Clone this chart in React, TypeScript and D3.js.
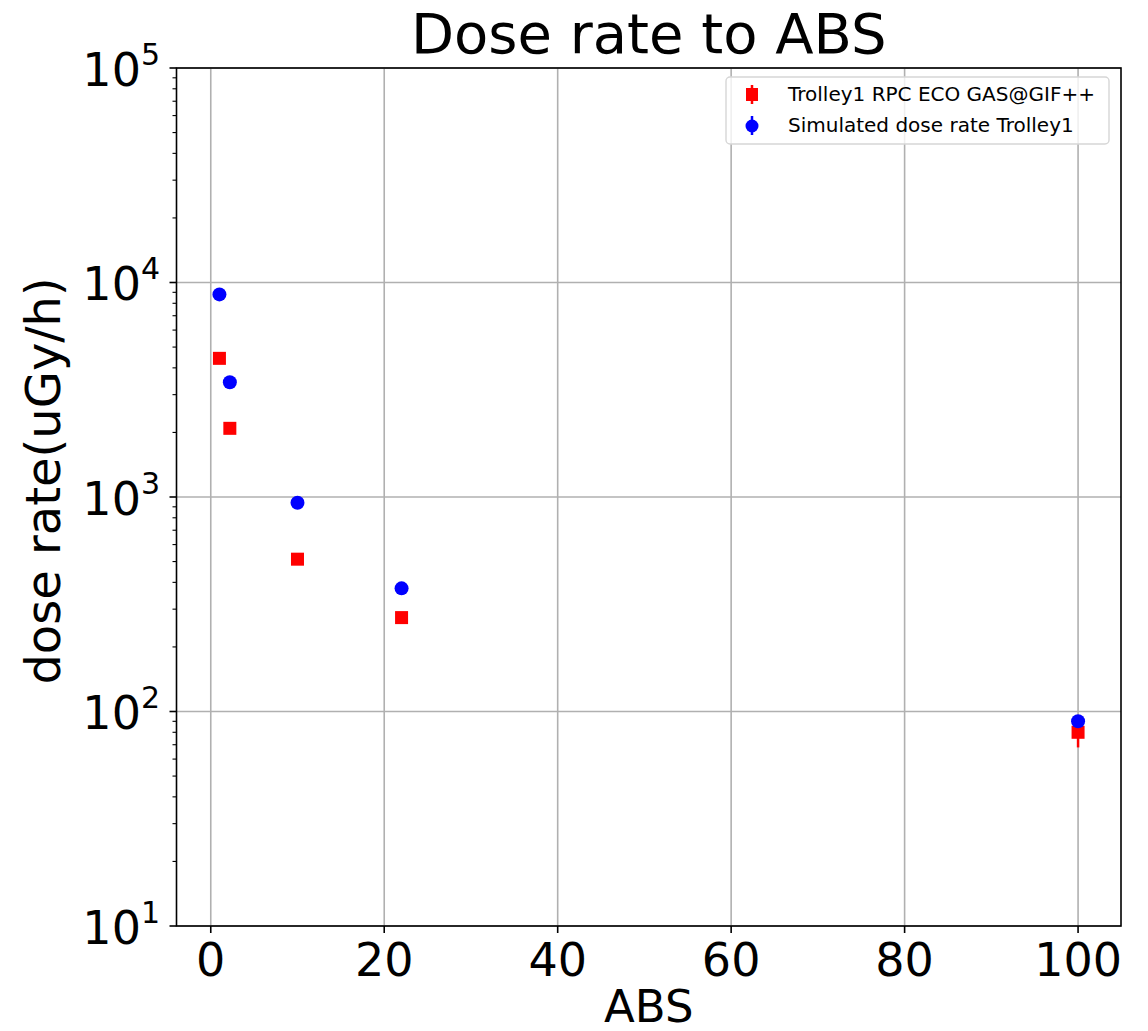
import React from "react";
import * as d3 from "d3";

const absValues = [1, 2.2, 10, 22, 100];
const measuredDose = [4430, 2090, 513, 274, 80];
const measuredErr = [200, 100, 25, 14, 12];
const simulatedDose = [8800, 3430, 940, 375, 90];
const simulatedErr = [300, 120, 30, 12, 3];
const xTicks = [0, 20, 40, 60, 80, 100];
const yExponents = [1, 2, 3, 4, 5];
const legendLabels = ["Trolley1 RPC ECO GAS@GIF++", "Simulated dose rate Trolley1"];
const titleText = "Dose rate to ABS";
const xLabelText = "ABS";
const yLabelText = "dose rate(uGy/h)";

const W = 1148;
const H = 1031;
const L = 176.5, R = 1121, T = 68, B = 926;
const FONT = "DejaVu Sans, sans-serif";

export default function App() {
  const x = d3.scaleLinear().domain([-3.95, 104.95]).range([L, R]);
  const y = d3.scaleLog().domain([10, 1e5]).range([B, T]);

  const minor: number[] = [];
  for (let e = 1; e < 5; e++) for (let m = 2; m <= 9; m++) minor.push(m * Math.pow(10, e));

  const gridColor = "#b0b0b0";

  return (
    <svg width={W} height={H} style={{ position: "absolute", left: 0, top: 0, background: "#fff" }} fontFamily={FONT}>
      <rect x={0} y={0} width={W} height={H} fill="#fff" />
      {xTicks.map((t) => (
        <line key={"gx" + t} x1={x(t)} x2={x(t)} y1={T} y2={B} stroke={gridColor} strokeWidth={1.6} />
      ))}
      {yExponents.map((e) => (
        <line key={"gy" + e} x1={L} x2={R} y1={y(Math.pow(10, e))} y2={y(Math.pow(10, e))} stroke={gridColor} strokeWidth={1.6} />
      ))}
      <rect x={L} y={T} width={R - L} height={B - T} fill="none" stroke="#000" strokeWidth={1.6} />
      {xTicks.map((t) => (
        <g key={"xt" + t}>
          <line x1={x(t)} x2={x(t)} y1={B} y2={B + 7} stroke="#000" strokeWidth={1.6} />
          <text x={x(t)} y={976} fontSize={46} textAnchor="middle" fill="#000">{t}</text>
        </g>
      ))}
      {yExponents.map((e) => {
        const yy = y(Math.pow(10, e));
        return (
          <g key={"yt" + e}>
            <line x1={L - 7} x2={L} y1={yy} y2={yy} stroke="#000" strokeWidth={1.6} />
            <text x={160} y={yy + 17.7} fontSize={46} textAnchor="end" fill="#000">
              10<tspan dy={-21} fontSize={30}>{e}</tspan>
            </text>
          </g>
        );
      })}
      {minor.map((v) => (
        <line key={"mn" + v} x1={L - 4} x2={L} y1={y(v)} y2={y(v)} stroke="#000" strokeWidth={1.1} />
      ))}
      {absValues.map((a, i) => (
        <line key={"me" + i} x1={x(a)} x2={x(a)} y1={y(measuredDose[i] - measuredErr[i])} y2={y(measuredDose[i] + measuredErr[i])} stroke="#ff0000" strokeWidth={2.5} />
      ))}
      {absValues.map((a, i) => (
        <rect key={"mm" + i} x={x(a) - 6.5} y={y(measuredDose[i]) - 6.5} width={13} height={13} fill="#ff0000" />
      ))}
      {absValues.map((a, i) => (
        <line key={"se" + i} x1={x(a)} x2={x(a)} y1={y(simulatedDose[i] - simulatedErr[i])} y2={y(simulatedDose[i] + simulatedErr[i])} stroke="#0000ff" strokeWidth={2.5} />
      ))}
      {absValues.map((a, i) => (
        <circle key={"sm" + i} cx={x(a)} cy={y(simulatedDose[i])} r={7} fill="#0000ff" />
      ))}
      <g>
        <rect x={726} y={77} width={383} height={67} rx={4} fill="#fff" fillOpacity={0.8} stroke="#d6d6d6" strokeWidth={1.4} />
        <line x1={752} x2={752} y1={85} y2={104} stroke="#ff0000" strokeWidth={2.5} />
        <rect x={746} y={88} width={12} height={13} fill="#ff0000" />
        <text x={788} y={101} fontSize={20} fill="#000">{legendLabels[0]}</text>
        <line x1={752} x2={752} y1={116} y2={135} stroke="#0000ff" strokeWidth={2.5} />
        <circle cx={752} cy={126} r={6.5} fill="#0000ff" />
        <text x={788} y={132} fontSize={20} fill="#000">{legendLabels[1]}</text>
      </g>
      <text x={(L + R) / 2} y={53} fontSize={56} textAnchor="middle" fill="#000">{titleText}</text>
      <text x={(L + R) / 2} y={1022} fontSize={45} textAnchor="middle" fill="#000">{xLabelText}</text>
      <text transform={`translate(60,481) rotate(-90)`} fontSize={48} textAnchor="middle" fill="#000">{yLabelText}</text>
    </svg>
  );
}
